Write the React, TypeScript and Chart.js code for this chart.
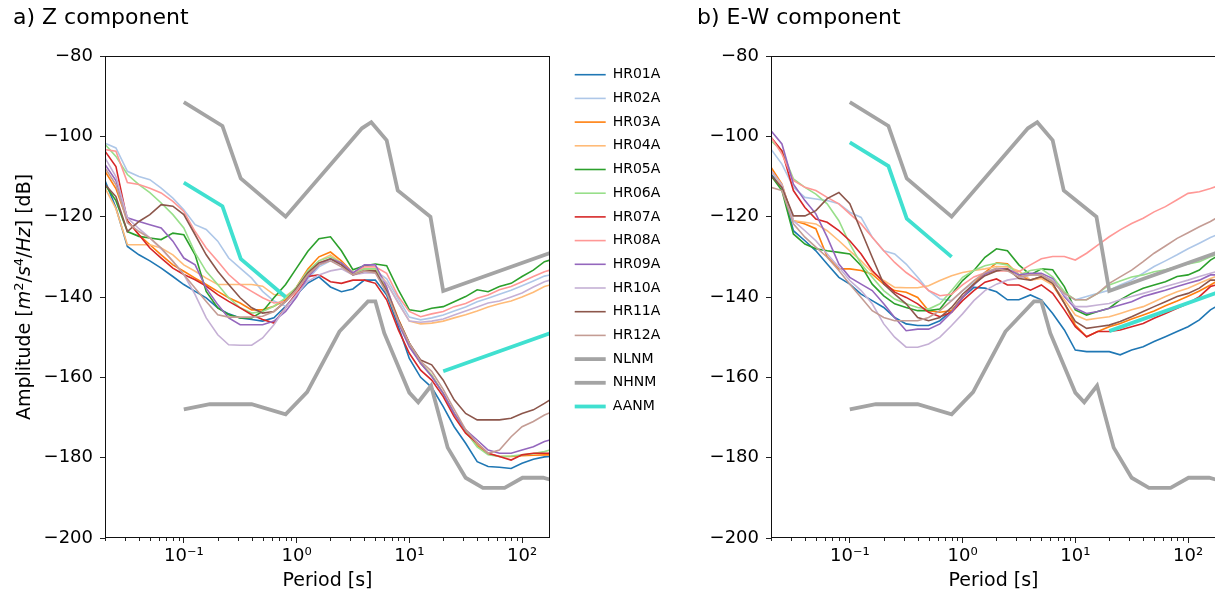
import { useEffect, useRef } from 'react';
import { Chart, registerables } from 'chart.js';

Chart.register(...registerables);

// ---------- data ----------
const PERIODS = [0.02, 0.025, 0.0316, 0.04, 0.05, 0.063, 0.08, 0.1, 0.126, 0.158, 0.2, 0.25, 0.316, 0.4, 0.5, 0.63, 0.8, 1.0, 1.26, 1.58, 2.0, 2.5, 3.16, 4.0, 5.0, 6.3, 8.0, 10, 12.6, 15.8, 20, 25, 31.6, 40, 50, 63, 80, 100, 126, 158, 177];

const STATION_NAMES = ['HR01A', 'HR02A', 'HR03A', 'HR04A', 'HR05A', 'HR06A', 'HR07A', 'HR08A', 'HR09A', 'HR10A', 'HR11A', 'HR12A'];

// Z component
const Z_HR01A = [-111, -117.8, -127.4, -129.5, -131, -132.8, -134.9, -136.9, -138.6, -140.2, -142.7, -144.2, -145.2, -145.6, -146, -145.2, -142.3, -139.4, -136.5, -135, -137.5, -138.7, -138, -135.8, -135.8, -139.5, -147.4, -155.3, -160, -162.5, -167.3, -172.3, -176.4, -181, -182.2, -182.4, -182.7, -181.4, -180.4, -179.8, -179.7];
const Z_HR02A = [-101.7, -102.9, -108.7, -110, -110.8, -112.9, -115.4, -118.3, -122, -123.2, -126.1, -130.3, -132.8, -135.3, -138.6, -141, -142.3, -139.5, -135.5, -132.5, -131, -132, -134.5, -133.5, -133.5, -135.5, -140.5, -145, -145.7, -145.2, -144.5, -143.5, -142.5, -141.2, -140.3, -139.3, -138.3, -137.2, -136, -134.8, -134.5];
const Z_HR03A = [-108.7, -113, -121, -124.5, -127, -129.5, -132, -133.6, -135.3, -136.9, -138.6, -140.2, -141.5, -143.2, -143.2, -142.3, -140.7, -137.5, -133, -130, -128.8, -131, -134, -133, -133.5, -138, -145.5, -151.5, -156.5, -159.5, -164, -169, -173.5, -177, -179, -179.7, -179.7, -179.5, -179.4, -179.3, -179.3];
const Z_HR04A = [-112.9, -118, -127, -127, -127, -127.8, -129.5, -132, -133.6, -135.3, -136.9, -136.9, -136.9, -136.9, -137.3, -139.4, -139.8, -137.8, -134, -131, -129.5, -131.5, -134, -133, -133, -136.5, -141.5, -146, -146.7, -146.5, -146, -145.2, -144.4, -143.5, -142.5, -141.7, -141, -140, -138.8, -137.4, -137];
const Z_HR05A = [-112, -116, -123.7, -124.9, -125.3, -125.7, -124.1, -124.5, -129.5, -138.6, -142.7, -144.4, -145.2, -145.2, -143.6, -140.2, -136.9, -132.8, -128.6, -125.5, -125, -128.5, -133.2, -132.2, -131.8, -132.2, -138.2, -143.2, -143.6, -142.8, -142.4, -141.2, -139.9, -138.2, -138.7, -137.4, -136.6, -134.9, -133.3, -131.2, -130.8];
const Z_HR06A = [-102, -105, -109.5, -112, -114, -116.6, -119.5, -122.8, -129, -133.6, -136.9, -140.2, -142.7, -144, -143.6, -142.3, -140.2, -137.5, -133.5, -131, -130, -131.5, -134, -133, -133, -138.5, -146, -151.5, -156.5, -159.5, -164, -169, -173.5, -177.3, -179.3, -179.7, -179.6, -179.3, -179, -178.5, -178.1];
const Z_HR07A = [-103.7, -107.5, -121, -124.5, -127.8, -130.3, -132.8, -134.4, -135.7, -137.3, -139.4, -141.1, -142.7, -144.4, -145.6, -146.5, -142.7, -139, -134.9, -134.5, -136.2, -136.6, -135.8, -135.8, -136.6, -140.7, -148.2, -154, -158.2, -160.7, -164.8, -169.8, -173.9, -176.4, -178.9, -179.7, -180.6, -179.3, -178.9, -178.9, -178.9];
const Z_HR08A = [-103.3, -103.7, -111.5, -112, -112.9, -114.1, -116.2, -118.7, -123.7, -127.8, -131.1, -134.4, -136.9, -138.6, -140.2, -141.5, -141.1, -138.6, -134.5, -131.5, -130.5, -131.5, -134, -132.5, -132.5, -134.1, -139.9, -143.6, -144.9, -144.2, -143.6, -142.4, -141.6, -140.3, -139.5, -138.2, -137.4, -136.2, -134.9, -133.7, -133.3];
const Z_HR09A = [-107, -111, -120.3, -121.2, -122, -122.8, -126.1, -130.3, -132, -137.8, -141.9, -145.2, -146.9, -146.9, -146.9, -146, -143.6, -140, -135, -132, -130.5, -131.5, -134, -132, -132, -137.5, -146.5, -152.4, -156.5, -159.8, -164, -169, -173.1, -175.6, -178.1, -178.9, -178.9, -178.1, -177.3, -176, -175.6];
const Z_HR10A = [-105.4, -110, -120.3, -123, -125.3, -128, -131.1, -134.4, -139.4, -145.2, -149.4, -151.9, -152, -152, -150.2, -146.9, -142.7, -139.4, -136.1, -134.5, -133.5, -133, -134.5, -134, -134, -136.5, -141.5, -146, -146.3, -146, -145.5, -144.5, -143.5, -142.5, -141.5, -141, -140, -139, -137.5, -136.2, -135.8];
const Z_HR11A = [-112, -115, -123.7, -121.2, -119.5, -117, -117.4, -119.5, -124.5, -129.5, -133.6, -136.9, -140.2, -142.7, -144, -143.6, -141.1, -137.8, -134, -131.5, -130.5, -132, -134.5, -133.5, -133.5, -138.5, -145.7, -151.5, -155.7, -156.9, -160.7, -165.6, -169, -170.6, -170.6, -170.6, -170.2, -169, -168.1, -166.5, -165.6];
const Z_HR12A = [-107.9, -112, -121.5, -123.7, -125.3, -127.8, -131.1, -134.4, -137.8, -141.1, -144.4, -145, -145, -145, -144.8, -143.6, -141.1, -138.2, -134.5, -132, -131, -132.5, -134.5, -133.5, -134, -139, -146, -151.5, -156, -158.5, -163, -168, -173, -176.4, -178.9, -178.1, -174.8, -172.3, -171, -169.4, -168.8];

// E-W component
const E_HR01A = [-109.4, -112.7, -123.5, -126, -128.5, -131.8, -135.1, -136.8, -139.3, -140.9, -142.6, -145.1, -146.7, -147.1, -147.1, -145.9, -143.4, -140.1, -137.6, -137.8, -138.7, -140.7, -140.7, -139.5, -140.7, -144.1, -148.2, -153.2, -153.6, -153.6, -153.6, -154.4, -153.2, -152.4, -151.1, -149.9, -148.6, -147.4, -145.7, -143.2, -142.4];
const E_HR02A = [-103.2, -106.9, -112.7, -115.2, -115.6, -116, -116.8, -118.9, -120.2, -125.1, -128.5, -129.3, -131.8, -135.1, -138.4, -140.5, -140.9, -138.4, -136.3, -133.9, -132.8, -133, -134.5, -134.5, -134.5, -136.2, -139.1, -140.7, -139.9, -139.1, -138.3, -137, -135.8, -134.1, -132.4, -131, -129.5, -128, -126.6, -125.2, -124.6];
const E_HR03A = [-107.7, -111.9, -121, -121.8, -123, -130, -133, -133, -133.4, -134.3, -136.8, -138.4, -138.8, -140.1, -143.4, -143.8, -143.4, -140.1, -136.8, -133.9, -131.5, -131.7, -134.5, -135.8, -135, -137, -141.5, -147, -149.9, -148.6, -147.4, -146.6, -145.5, -144.5, -143.5, -142.2, -141, -139.8, -138.5, -137, -136.2];
const E_HR04A = [-108.5, -112.5, -121, -121.4, -121.8, -123.5, -126, -128.5, -131, -133.9, -135.9, -137.6, -137.7, -137.7, -137.2, -135.9, -134.7, -133.9, -133.4, -133, -132.4, -132.5, -133.5, -135.8, -135.4, -137, -140.7, -144.5, -145.7, -145.3, -144.9, -144.1, -143.2, -142.4, -141.2, -139.9, -138.7, -137.8, -136.6, -135.4, -134.9];
const E_HR05A = [-109.8, -113.5, -124.3, -126.8, -128, -128.5, -128.9, -129.3, -132.2, -136.8, -139.7, -141.7, -142.6, -143.4, -143.4, -143, -139.3, -135.9, -133.4, -130.1, -128, -128.5, -132, -134.5, -133, -133.2, -137.4, -143.2, -144.5, -143.6, -142.8, -140.7, -139.1, -137.8, -137, -136.2, -134.9, -134.5, -133.3, -130.8, -130];
const E_HR06A = [-101.1, -103.6, -110.6, -112.7, -114.4, -116.8, -121, -126.8, -131.8, -135.1, -138.4, -140.5, -141.7, -142.6, -143, -141.7, -138.4, -135.1, -133.4, -132.2, -131.6, -132, -134.5, -133.4, -133, -135, -138.7, -140.7, -140.7, -139.1, -137, -136, -135, -134.5, -133.7, -133.2, -132.4, -131.8, -131.2, -130, -129.5];
const E_HR07A = [-100.2, -103.6, -113.5, -117.7, -120.6, -121.4, -123.5, -126, -129.3, -133.4, -136.3, -138.8, -140.1, -141.7, -143.8, -144.9, -143.8, -140.9, -138.4, -136.3, -135.5, -137, -137, -138.3, -137, -139.1, -143.2, -147.4, -149.9, -148.6, -148.6, -148.2, -147.4, -146.6, -145.3, -144.1, -142.8, -141.6, -139.9, -137.4, -137];
const E_HR08A = [-100.2, -104.4, -111, -112.7, -113.5, -115.2, -116.8, -119.3, -121.8, -125.1, -128.5, -131.4, -133.9, -135.9, -138.4, -139.7, -139.3, -137, -135, -134, -133.5, -133.5, -133.7, -132, -130.5, -129.9, -129.9, -130.8, -129.1, -127.1, -125, -123.3, -121.7, -120.4, -118.8, -117.5, -115.8, -114.2, -113.8, -113, -112.5];
const E_HR09A = [-98.6, -101.9, -111.9, -116, -119.3, -125.1, -131.8, -135.1, -136.8, -138.4, -141.7, -145.1, -148.4, -148, -148, -146.7, -143.8, -140.1, -137, -134.3, -133, -133, -134.5, -134.1, -134.1, -135.4, -139.9, -142.8, -144.1, -143.6, -142.8, -142, -141.2, -139.9, -139.1, -138.3, -137.4, -136.6, -135.8, -134.5, -134.5];
const E_HR10A = [-108.5, -112, -121, -123.5, -126, -129.3, -132.6, -135.9, -138.4, -141.7, -146.7, -150, -152.5, -152.5, -151.7, -150, -147.1, -144.2, -140.9, -138.4, -136.8, -135.8, -135.3, -134.5, -134.5, -135.8, -139.5, -142.4, -142.4, -142, -141.6, -140.7, -139.9, -139.1, -138.3, -137.4, -136.6, -135.8, -134.9, -134.1, -133.7];
const E_HR11A = [-109.8, -112.7, -119.8, -119.8, -118.5, -115.5, -114, -116.8, -123.5, -130.1, -136.8, -139.3, -141.7, -145.1, -145.9, -145.1, -142.6, -139.3, -136.8, -134.7, -133.5, -133, -135.4, -135.8, -134.9, -136.6, -141.6, -146.1, -147.8, -147.4, -147, -146.1, -144.9, -143.6, -142.4, -141.2, -139.9, -139.1, -137.8, -135.8, -135.8];
const E_HR12A = [-112.7, -113.5, -121.8, -125.1, -127.6, -130.1, -133.4, -136.8, -140.1, -143.4, -145.1, -145.9, -145.9, -145.9, -145.1, -143.4, -140.9, -138.4, -135.9, -133.9, -132.9, -133.5, -135, -134.5, -134.5, -136.2, -139.1, -140.7, -140.7, -139.1, -136.6, -135, -133.3, -131.2, -129.1, -127.3, -125.4, -124, -122.5, -121.2, -120.4];

// Peterson noise models (periods in s, values in dB)
const NLNM_PERIODS = [0.1, 0.17, 0.4, 0.8, 1.24, 2.4, 4.3, 5.0, 6.0, 10.0, 12.0, 15.6, 21.9, 31.6, 45.0, 70.0, 101.0, 154.0, 328.0];
const NLNM_DB = [-168.0, -166.7, -166.7, -169.2, -163.7, -148.6, -141.1, -141.1, -149.0, -163.8, -166.2, -162.1, -177.5, -185.0, -187.5, -187.5, -185.0, -185.0, -187.5];
const NHNM_PERIODS = [0.1, 0.22, 0.32, 0.8, 3.8, 4.6, 6.3, 7.9, 15.4, 20.0, 354.8];
const NHNM_DB = [-91.5, -97.4, -110.5, -120.0, -98.0, -96.5, -101.0, -113.5, -120.0, -138.5, -126.0];
const AANM_PERIODS = [0.1, 0.22, 0.32, 0.8, 5.0, 20.0, 354.8];
const AANM_Z_DB = [-111.5, -117.4, -130.5, -140.0, null, -158.5, -146.0];
const AANM_EW_DB = [-101.5, -107.4, -120.5, -130.0, null, -148.5, -136.0];

const Y_MIN = -200;
const Y_MAX = -80;
const Y_STEP = 20;
const X_MIN = 0.02;
const X_MAX = 177;
const X_MAJOR_TICKS = [0.1, 1, 10, 100];
const X_TICK_LABELS = ['10\u207B\u00B9', '10\u2070', '10\u00B9', '10\u00B2'];

// ---------- styles ----------
const STATION_COLORS = ['#1f77b4', '#aec7e8', '#ff7f0e', '#ffbb78', '#2ca02c', '#98df8a', '#d62728', '#ff9896', '#9467bd', '#c5b0d5', '#8c564b', '#c49c94'];
const MODEL_GRAY = '#a4a4a4';
const AANM_COLOR = '#40e0d0';
const FONT = "'DejaVu Sans', sans-serif";
const INK = '#000';
const TICK_INK = '#222';

function pairs(xs: number[], ys: (number | null)[]) {
  return xs.map((x, i) => ({ x, y: ys[i] }));
}

function buildDatasets(stationValues: number[][], aanm: (number | null)[]) {
  const ds: any[] = stationValues.map((vals, i) => ({
    label: STATION_NAMES[i],
    data: pairs(PERIODS, vals),
    borderColor: STATION_COLORS[i],
    backgroundColor: STATION_COLORS[i],
    borderWidth: 1.6,
  }));
  ds.push({ label: 'NLNM', data: pairs(NLNM_PERIODS, NLNM_DB), borderColor: MODEL_GRAY, backgroundColor: MODEL_GRAY, borderWidth: 3.8 });
  ds.push({ label: 'NHNM', data: pairs(NHNM_PERIODS, NHNM_DB), borderColor: MODEL_GRAY, backgroundColor: MODEL_GRAY, borderWidth: 3.8 });
  ds.push({ label: 'AANM', data: pairs(AANM_PERIODS, aanm), borderColor: AANM_COLOR, backgroundColor: AANM_COLOR, borderWidth: 3.8 });
  return ds.map((d, i, arr) => ({
    ...d,
    order: arr.length - i,
    pointRadius: 0,
    pointHoverRadius: 0,
    pointBorderWidth: d.borderWidth,
    pointBorderColor: d.borderColor,
    tension: 0,
    fill: false,
    spanGaps: false,
    clip: 0,
    yAxisID: 'y',
    xAxisID: 'x',
  }));
}

const framePlugin = {
  id: 'frameAndMinor',
  afterDraw(chart: any) {
    const { ctx, chartArea } = chart;
    const xs = chart.scales.x;
    const { left, right, top, bottom } = chartArea;
    ctx.save();
    // minor ticks on log axis
    ctx.strokeStyle = TICK_INK;
    ctx.lineWidth = 1;
    ctx.beginPath();
    for (let e = -2; e <= 2; e++) {
      for (let m = 2; m <= 9; m++) {
        const v = m * Math.pow(10, e);
        if (v < X_MIN || v > X_MAX) continue;
        const px = Math.round(xs.getPixelForValue(v)) + 0.5;
        ctx.moveTo(px, bottom);
        ctx.lineTo(px, bottom + 3);
      }
    }
    ctx.stroke();
    // spines
    ctx.strokeStyle = '#111';
    ctx.lineWidth = 1;
    const l = Math.round(left) + 0.5;
    const r = Math.round(right) - 0.5;
    const t = Math.round(top) + 0.5;
    const b = Math.round(bottom) - 0.5;
    ctx.strokeRect(l, t, r - l, b - t);
    ctx.restore();
  },
};

const yTitlePlugin = {
  id: 'yTitleMath',
  afterDraw(chart: any) {
    const { ctx, chartArea } = chart;
    const cy = (chartArea.top + chartArea.bottom) / 2;
    const size = 19;
    const sup = 13;
    const parts = [
      { t: 'Amplitude [', f: `${size}px ${FONT}`, dy: 0 },
      { t: 'm', f: `italic ${size}px ${FONT}`, dy: 0 },
      { t: '2', f: `${sup}px ${FONT}`, dy: -7 },
      { t: '/', f: `${size}px ${FONT}`, dy: 0 },
      { t: 's', f: `italic ${size}px ${FONT}`, dy: 0 },
      { t: '4', f: `${sup}px ${FONT}`, dy: -7 },
      { t: '/', f: `${size}px ${FONT}`, dy: 0 },
      { t: 'Hz', f: `italic ${size}px ${FONT}`, dy: 0 },
      { t: '] [dB]', f: `${size}px ${FONT}`, dy: 0 },
    ];
    ctx.save();
    let total = 0;
    const widths = parts.map((p) => {
      ctx.font = p.f;
      const w = ctx.measureText(p.t).width;
      total += w;
      return w;
    });
    ctx.translate(30, cy);
    ctx.rotate(-Math.PI / 2);
    ctx.fillStyle = INK;
    ctx.textBaseline = 'alphabetic';
    ctx.textAlign = 'left';
    let x = -total / 2;
    parts.forEach((p, i) => {
      ctx.font = p.f;
      ctx.fillText(p.t, x, p.dy);
      x += widths[i];
    });
    ctx.restore();
  },
};

function makeConfig(opts: { title: string; values: number[][]; aanm: (number | null)[]; legend: boolean; padLeft: number; padRight: number; yWidth: number }) {
  const scales: any = {
    x: {
      type: 'logarithmic',
      min: X_MIN,
      max: X_MAX,
      afterBuildTicks: (s: any) => {
        s.ticks = X_MAJOR_TICKS.map((v) => ({ value: v, major: true }));
      },
      ticks: {
        color: INK,
        font: { family: FONT, size: 18 },
        padding: 3,
        maxRotation: 0,
        autoSkip: false,
        callback: (v: any) => {
          const i = X_MAJOR_TICKS.indexOf(Number(v));
          return i >= 0 ? X_TICK_LABELS[i] : '';
        },
      },
      grid: { drawOnChartArea: false, tickLength: 5, tickColor: TICK_INK, color: TICK_INK, tickWidth: 1 },
      border: { display: false },
      title: { display: true, text: 'Period [s]', color: INK, font: { family: FONT, size: 19 }, padding: { top: 0, bottom: 1 } },
      afterFit: (s: any) => {
        s.height = 55;
      },
    },
    y: {
      type: 'linear',
      min: Y_MIN,
      max: Y_MAX,
      ticks: {
        stepSize: Y_STEP,
        color: INK,
        font: { family: FONT, size: 18 },
        padding: 7,
        callback: (v: any) => (Number(v) < 0 ? '\u2212' + Math.abs(Number(v)) : String(v)),
      },
      grid: { drawOnChartArea: false, tickLength: 5, tickColor: TICK_INK, color: TICK_INK, tickWidth: 1 },
      border: { display: false },
      afterFit: (s: any) => {
        s.width = opts.yWidth;
      },
    },
  };
  if (opts.legend) {
    scales.yPad = {
      type: 'linear',
      position: 'right',
      display: true,
      ticks: { display: false },
      grid: { display: false, drawTicks: false },
      border: { display: false },
      afterFit: (s: any) => {
        s.width = 15;
      },
    };
  }
  return {
    type: 'line' as const,
    data: { datasets: buildDatasets(opts.values, opts.aanm) },
    options: {
      responsive: true,
      maintainAspectRatio: false,
      animation: false as const,
      events: [] as any[],
      layout: { padding: { left: opts.padLeft, right: opts.padRight, top: 0, bottom: 0 } },
      scales,
      plugins: {
        tooltip: { enabled: false },
        title: {
          display: true,
          text: opts.title,
          align: 'start' as const,
          color: INK,
          font: { family: FONT, size: 22, weight: 'normal' as const, lineHeight: 1.2 },
          padding: { top: 5, bottom: 24.6 },
        },
        legend: {
          display: opts.legend,
          position: 'right' as const,
          align: 'start' as const,
          fullSize: false,
          maxWidth: 105,
          title: { display: true, text: ' ', padding: 0, font: { size: 2, lineHeight: 1 } },
          labels: {
            usePointStyle: true,
            pointStyle: 'line',
            pointStyleWidth: 31,
            padding: 9.7,
            color: INK,
            font: { family: FONT, size: 14 },
            sort: (a: any, b: any) => a.datasetIndex - b.datasetIndex,
          },
        },
      },
    },
    plugins: opts.legend ? [framePlugin, yTitlePlugin] : [framePlugin],
  };
}

const Z_VALUES = [Z_HR01A, Z_HR02A, Z_HR03A, Z_HR04A, Z_HR05A, Z_HR06A, Z_HR07A, Z_HR08A, Z_HR09A, Z_HR10A, Z_HR11A, Z_HR12A];
const EW_VALUES = [E_HR01A, E_HR02A, E_HR03A, E_HR04A, E_HR05A, E_HR06A, E_HR07A, E_HR08A, E_HR09A, E_HR10A, E_HR11A, E_HR12A];

export default function App() {
  const leftRef = useRef<HTMLCanvasElement>(null);
  const rightRef = useRef<HTMLCanvasElement>(null);

  useEffect(() => {
    const c1 = new Chart(leftRef.current as HTMLCanvasElement, makeConfig({ title: 'a) Z component', values: Z_VALUES, aanm: AANM_Z_DB, legend: true, padLeft: 13, padRight: 10, yWidth: 92 }) as any);
    const c2 = new Chart(rightRef.current as HTMLCanvasElement, makeConfig({ title: 'b) E-W component', values: EW_VALUES, aanm: AANM_EW_DB, legend: false, padLeft: 42, padRight: 0, yWidth: 74 }) as any);
    return () => {
      c1.destroy();
      c2.destroy();
    };
  }, []);

  return (
    <div style={{ position: 'fixed', left: 0, top: 0, width: 1215, height: 593, overflow: 'hidden', background: '#fff' }}>
      <div style={{ position: 'absolute', left: 0, top: 0, width: 680, height: 593 }}>
        <canvas ref={leftRef} />
      </div>
      <div style={{ position: 'absolute', left: 655, top: 0, width: 561, height: 593 }}>
        <canvas ref={rightRef} />
      </div>
    </div>
  );
}
